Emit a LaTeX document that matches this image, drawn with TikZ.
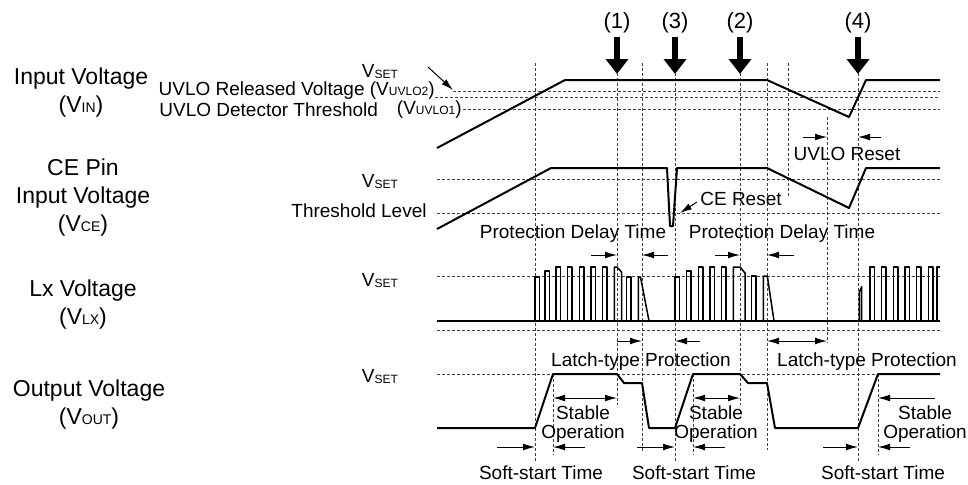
\documentclass[tikz,border=0pt]{standalone}
\usepackage{fontspec}
\setmainfont{Liberation Sans}
\usetikzlibrary{arrows.meta}

\newcommand{\lo}[1]{{\fontsize{7}{7}\selectfont #1}}
\newcommand{\tn}[1]{{\fontsize{6}{6}\selectfont #1}}
\newcommand{\vset}{V\raisebox{-0.9pt}{\fontsize{6}{6}\selectfont SET}}

\begin{document}
\begin{tikzpicture}[x=0.5pt,y=-0.5pt]

		\tikzstyle{sig}=[align=center,font=\fontsize{11.5}{14}\selectfont]
		\tikzstyle{note}=[inner sep=0pt,font=\fontsize{9.5}{9.3}\selectfont,align=center]
		\tikzstyle{level}=[inner sep=0pt,font=\fontsize{9.5}{11}\selectfont]
		\tikzstyle{num}=[inner sep=0pt,font=\fontsize{11}{12}\selectfont]
		\tikzstyle{guide}=[dash pattern=on 1.5pt off 1pt,line width=0.3pt,black!75]
		\tikzstyle{wave}=[line width=1pt,line join=round]
		\tikzstyle{pulse}=[line width=0.75pt,line join=round]
		\tikzstyle{dim}=[->,>={Latex[length=6pt,width=3.4pt]},line width=0.5pt]
		\tikzstyle{bigarrow}=[-{Triangle[length=7.5pt,width=11pt]},line width=3pt]

		\useasboundingbox (0,0) rectangle (968,484);

		\node[sig]	(vin)	at (81,93)	{Input Voltage\\(V\lo{IN})};
		\node[sig]	(vce)	at (83,198)	{CE Pin\\Input Voltage\\(V\lo{CE})};
		\node[sig]	(vlx)	at (83,305)	{Lx Voltage\\(V\lo{LX})};
		\node[sig]	(vout)	at (89,405)	{Output Voltage\\(V\lo{OUT})};

		\node[level,anchor=base]	(setin)	at (380,77)	{\vset};
		\node[level,anchor=base]	(setce)	at (380,187)	{\vset};
		\node[level,anchor=base]	(setlx)	at (380,286)	{\vset};
		\node[level,anchor=base]	(setout)	at (380,382)	{\vset};
		\node[level,anchor=east]	(uvlo2)	at (435,91)	{UVLO Released Voltage (V\tn{UVLO2})};
		\node[level,anchor=west]	(uvlo1)	at (159,110)	{UVLO Detector Threshold};
		\node[level,anchor=east]	(vuvlo1)	at (462,110)	{(V\tn{UVLO1})};
		\node[level,anchor=east]	(thr)	at (427,211)	{Threshold Level};

		\foreach \y/\xa in {91/453,97/435,109/463,179/437,213/437,276/437,330/437,374/437}
			\draw[guide] (\xa,\y) -- (940,\y);
		\foreach \x/\ya/\yb in {535/63/462,617/73/405,642/63/452,675/73/462,740/73/405,767/63/450,788/63/197,827/117/343,858/73/462,553/374/455,693/374/455,878/374/455}
			\draw[guide] (\x,\ya) -- (\x,\yb);

		\draw[wave] (437,148) -- (565,80) -- (767,80) -- (849,117) -- (866,80) -- (940,80);
		\draw[wave] (437,229) -- (551,168) -- (667,168) -- (670,226) -- (673,226) -- (677,168) -- (767,168) -- (849,208) -- (866,168) -- (940,168);
		\draw[wave] (437,321) -- (940,321);
		\draw[wave] (437,428) -- (535,428) -- (553,374) -- (617,374) -- (624,383) -- (642,383) -- (649,428) -- (675,428) -- (693,374) -- (740,374) -- (748,383) -- (767,383) -- (775,428) -- (858,428) -- (878,374) -- (940,374);

		\foreach \x/\t in {535/277,545/271,556/267,567.7/267,579.3/267,591/267,602.7/267,626.7/277,675/277,686.7/271,698.3/267,710/267,721.7/267,751.7/276,870/267,881.7/267,893.3/267,905/267,916.7/267,928.3/267}
			\draw[pulse] (\x,321) |- (\x+4.5,\t) -- (\x+4.5,321);
		\draw[pulse] (614.3,321) -- (614.3,267) -- (617,267) -- (621.5,272) -- (621.5,321);
		\draw[pulse] (638.3,321) -- (638.3,277) -- (640.5,277) -- (649,321);
		\draw[pulse] (733.3,321) -- (733.3,267) -- (740,267) -- (745,273) -- (745,321);
		\draw[pulse] (763.3,321) -- (763.3,276) -- (767.3,276) -- (774,321);
		\draw[pulse] (859.3,321) -- (859.3,292) -- (861.7,286.7) -- (861.7,321);
		\draw[pulse] (937,321) -- (937,267) -- (940,267);

		\node[num]	(n1)	at (617,23)	{(1)};
		\node[num]	(n3)	at (675,23)	{(3)};
		\node[num]	(n2)	at (740,23)	{(2)};
		\node[num]	(n4)	at (858,23)	{(4)};
		\foreach \n/\x in {n1/617,n3/675,n2/740,n4/858}
			\draw[bigarrow] (\n.south) ++(0,3) -- (\x,74);

		\draw[dim] (428,67) -- (453,90);

		\node[level]	(uvloreset)	at (847,154)	{UVLO Reset};
		\draw[dim] (803,137) -- (827,137);
		\draw[dim] (881,137) -- (858,137);

		\node[level]	(cereset)	at (741,199)	{CE Reset};
		\draw[dim] (cereset.west) ++(-3,3) -- (680,213);

		\node[level]	(pdt1)	at (573,234)	{Protection Delay Time};
		\node[level]	(pdt2)	at (782,234)	{Protection Delay Time};
		\draw[dim] (591,255) -- (617,255);
		\draw[dim] (668,255) -- (642,255);
		\draw[dim] (715,255) -- (740,255);
		\draw[dim] (794,255) -- (767,255);

		\node[level]	(latch1)	at (641,362)	{Latch-type Protection};
		\node[level]	(latch2)	at (867,362)	{Latch-type Protection};
		\draw[dim] (617,341) -- (642,341);
		\draw[dim] (700,341) -- (675,341);
		\draw[dim,<->] (767,341) -- (827,341);

		\node[note]	(stable1)	at (583,424)	{Stable\\Operation};
		\node[note]	(stable2)	at (716,424)	{Stable\\Operation};
		\node[note]	(stable3)	at (925,424)	{Stable\\Operation};
		\draw[dim,<->] (553,398) -- (617,398);
		\draw[dim,<->] (693,398) -- (740,398);
		\draw[dim] (935,398) -- (878,398);
		\draw[dim] (585,447) -- (553,447);
		\draw[dim] (725,447) -- (693,447);
		\draw[dim] (910,447) -- (878,447);

		\node[level]	(soft1)	at (541,473)	{Soft-start Time};
		\node[level]	(soft2)	at (694,473)	{Soft-start Time};
		\node[level]	(soft3)	at (883,473)	{Soft-start Time};
		\draw[dim] (497,447) -- (535,447);
		\draw[dim] (637,447) -- (675,447);
		\draw[dim] (823,447) -- (858,447);

	\end{tikzpicture}
\end{document}
